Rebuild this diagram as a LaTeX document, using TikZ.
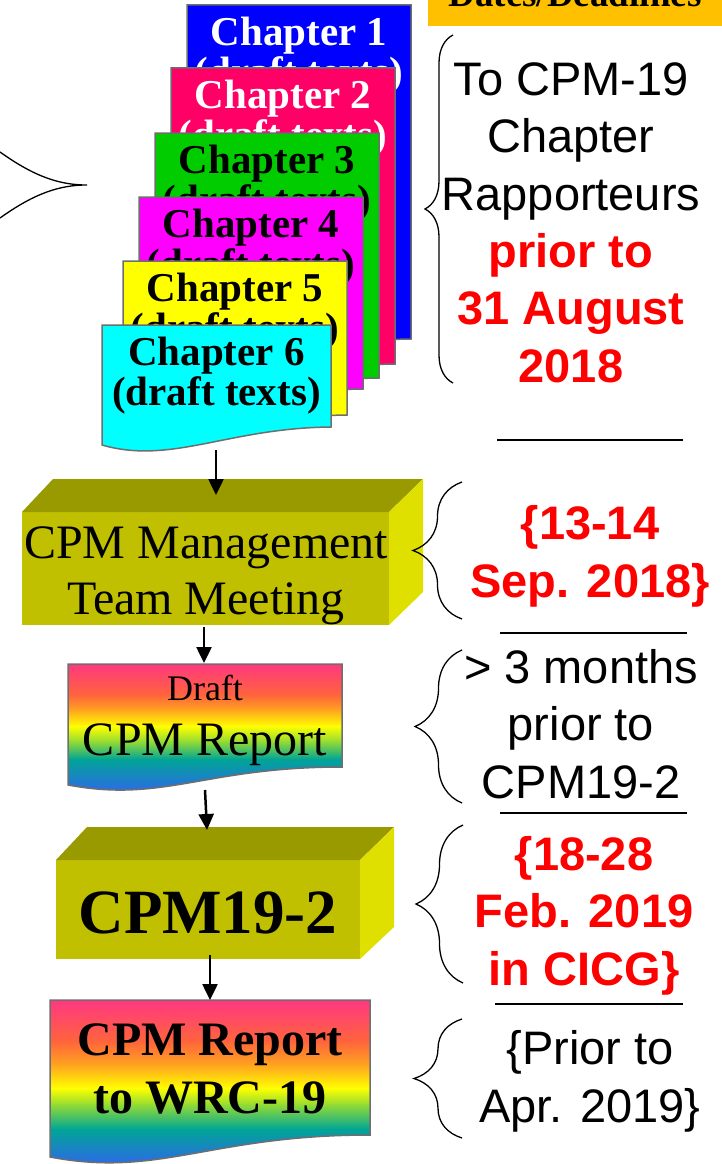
\documentclass[tikz,border=0pt]{standalone}
\usepackage{fontspec}
\setmainfont{Liberation Serif}
\setsansfont{Liberation Sans}
\usetikzlibrary{arrows.meta,decorations.pathreplacing}

\definecolor{pagegray}{RGB}{110,110,110}
\definecolor{chapblue}{RGB}{0,0,255}
\definecolor{chapcrimson}{RGB}{255,0,102}
\definecolor{chapgreen}{RGB}{0,204,0}
\definecolor{chapmagenta}{RGB}{255,0,255}
\definecolor{chapyellow}{RGB}{255,255,0}
\definecolor{chapcyan}{RGB}{0,255,255}
\definecolor{boxfront}{RGB}{192,192,0}
\definecolor{boxtop}{RGB}{153,153,0}
\definecolor{boxside}{RGB}{224,224,0}
\definecolor{hdrorange}{RGB}{255,192,0}
\definecolor{deadred}{RGB}{255,0,0}
\definecolor{rbpink}{RGB}{255,51,136}
\definecolor{rbred}{RGB}{255,100,60}
\definecolor{rborange}{RGB}{255,165,30}
\definecolor{rbyellow}{RGB}{255,255,0}
\definecolor{rbgreen}{RGB}{150,220,50}
\definecolor{rbteal}{RGB}{0,165,150}
\definecolor{rbblue}{RGB}{50,100,240}

\tikzset{
  page/.style={draw=pagegray, line width=1.5pt},
  chaptext/.style={anchor=base, align=center, inner sep=0pt, font=\bfseries\fontsize{41}{40}\selectfont},
  flow/.style={line width=2.5pt, -{Triangle[length=16pt,width=15pt]}},
  bracket/.style={line width=1.3pt, decorate, decoration={brace, amplitude=#1}},
  sepline/.style={line width=1.3pt},
  note/.style={anchor=base, align=center, inner sep=0pt, font=\sffamily\fontsize{47}{57.5}\selectfont},
  rednote/.style={note, text=deadred, font=\sffamily\bfseries\fontsize{47}{57.5}\selectfont},
  boxtext/.style={anchor=base, align=center, inner sep=0pt}
}

\begin{document}
\begin{tikzpicture}[x=1pt,y=-1pt]
\useasboundingbox (0,0) rectangle (722,1164);
\clip (0,0) rectangle (722,1164);

% tip of the big brace on the left
\draw[line width=1.3pt] (0,152) .. controls (35,177) and (60,185) .. (87,185) .. controls (60,185) and (35,193) .. (0,218);

% header
\fill[hdrorange] (428,-10) rectangle (722,26);
\node[boxtext, font=\bfseries\fontsize{37}{37}\selectfont] (hdr) at (575,7) {Dates/Deadlines};

% chapter pages
\filldraw[page, fill=chapblue] (187,5) -- (411,5) -- (411,339) .. controls (310,340) and (254,375) .. (187,357) -- cycle;
\node[chaptext, text=white] (c1) at (299,85) {Chapter 1\\(draft texts)};
\filldraw[page, fill=chapcrimson] (171,68) -- (395,68) -- (395,364) .. controls (294,365) and (238,400) .. (171,382) -- cycle;
\node[chaptext, text=white] (c2) at (283,148) {Chapter 2\\(draft texts)};
\filldraw[page, fill=chapgreen] (155,133) -- (379,133) -- (379,378) .. controls (278,379) and (222,414) .. (155,396) -- cycle;
\node[chaptext] (c3) at (267,213) {Chapter 3\\(draft texts)};
\filldraw[page, fill=chapmagenta] (139,197) -- (363,197) -- (363,389) .. controls (262,390) and (206,425) .. (139,407) -- cycle;
\node[chaptext] (c4) at (251,277) {Chapter 4\\(draft texts)};
\filldraw[page, fill=chapyellow] (123,261) -- (347,261) -- (347,415) .. controls (246,416) and (190,451) .. (123,433) -- cycle;
\node[chaptext] (c5) at (235,341) {Chapter 5\\(draft texts)};
\filldraw[page, fill=chapcyan] (102,325) -- (331,325) -- (331,427) .. controls (228,428) and (171,465) .. (102,445) -- cycle;
\node[chaptext] (c6) at (216.5,405) {Chapter 6\\(draft texts)};

% management team meeting box
\fill[boxfront] (22,512) rectangle (389,625);
\fill[boxtop] (22,512) -- (53,479) -- (423,479) -- (389,512) -- cycle;
\fill[boxside] (389,512) -- (423,479) -- (423,592) -- (389,625) -- cycle;
\node[boxtext, font=\fontsize{48}{56}\selectfont] (mgmt) at (206,614) {CPM Management\\Team Meeting};

% draft report
\begin{scope}
\clip (68,664) -- (342,664) -- (342,767) .. controls (205,767) and (164,803) .. (68,785) -- cycle;
\shade[top color=rbpink, bottom color=rbred] (60,660) rectangle (350,695.5);
\shade[top color=rbred, bottom color=rborange] (60,695) rectangle (350,710.5);
\shade[top color=rborange, bottom color=rbyellow] (60,710) rectangle (350,726.5);
\shade[top color=rbyellow, bottom color=rbgreen] (60,726) rectangle (350,741.5);
\shade[top color=rbgreen, bottom color=rbteal] (60,741) rectangle (350,759.5);
\shade[top color=rbteal, bottom color=rbblue] (60,759) rectangle (350,795);
\end{scope}
\draw[page] (68,664) -- (342,664) -- (342,767) .. controls (205,767) and (164,803) .. (68,785) -- cycle;
\node[boxtext, font=\fontsize{36}{36}\selectfont] (draft) at (205,700) {Draft};
\node[boxtext, font=\fontsize{48}{48}\selectfont] (draftrep) at (205,755) {CPM Report};

% CPM19-2 box
\fill[boxfront] (56,860) rectangle (360,959);
\fill[boxtop] (56,860) -- (87,827) -- (394,827) -- (360,860) -- cycle;
\fill[boxside] (360,860) -- (394,827) -- (394,927) -- (360,959) -- cycle;
\node[boxtext, font=\bfseries\fontsize{63}{63}\selectfont] (cpm) at (208,933) {CPM19-2};

% final report
\begin{scope}
\clip (50,1000) -- (370,1000) -- (370,1135) .. controls (210,1135) and (160,1178) .. (50,1157) -- cycle;
\shade[top color=rbpink, bottom color=rbred] (40,996) rectangle (380,1041.5);
\shade[top color=rbred, bottom color=rborange] (40,1041) rectangle (380,1065.5);
\shade[top color=rborange, bottom color=rbyellow] (40,1065) rectangle (380,1088.5);
\shade[top color=rbyellow, bottom color=rbgreen] (40,1088) rectangle (380,1104.5);
\shade[top color=rbgreen, bottom color=rbteal] (40,1104) rectangle (380,1129.5);
\shade[top color=rbteal, bottom color=rbblue] (40,1129) rectangle (380,1168);
\end{scope}
\draw[page] (50,1000) -- (370,1000) -- (370,1135) .. controls (210,1135) and (160,1178) .. (50,1157) -- cycle;
\node[boxtext, font=\bfseries\fontsize{48}{58}\selectfont] (final) at (210,1113) {CPM Report\\to WRC-19};

% connectors
\coordinate (c6 foot) at (216,450);
\coordinate (mgmt top) at (216,495);
\coordinate (mgmt foot) at (204,627);
\coordinate (draft top) at (204,663);
\coordinate (draft foot) at (205,790);
\coordinate (cpm top) at (207,830);
\coordinate (cpm foot) at (210,955);
\coordinate (final top) at (210,1000);
\draw[flow] (c6 foot) -- (mgmt top);
\draw[flow] (mgmt foot) -- (draft top);
\draw[flow] (draft foot) -- (cpm top);
\draw[flow] (cpm foot) -- (final top);

% braces
\draw[bracket=28pt] (453,383) -- (453,35);
\draw[bracket=49pt] (462,619) -- (462,482);
\draw[bracket=47pt] (462,803) -- (462,650);
\draw[bracket=47pt] (463,983) -- (463,825);
\draw[bracket=48pt] (462,1138) -- (462,1019);

% separators
\draw[sepline] (497,440) -- (683,440);
\draw[sepline] (500,633) -- (687,633);
\draw[sepline] (500,813) -- (687,813);
\draw[sepline] (495,1004) -- (683,1004);

% dates
\node[note] (d1) at (571,210) {To CPM-19\\Chapter\\Rapporteurs};
\node[rednote] (d1red) at (571,382) {prior to\\31 August\\2018};
\node[rednote] (d2) at (590,597) {\{13-14\\Sep. 2018\}};
\node[note] (d3) at (581,798) {> 3 months\\prior to\\CPM19-2};
\node[rednote] (d4) at (584,985) {\{18-28\\Feb. 2019\\in CICG\}};
\node[note] (d5) at (590,1122) {\{Prior to\\Apr. 2019\}};
\end{tikzpicture}
\end{document}
